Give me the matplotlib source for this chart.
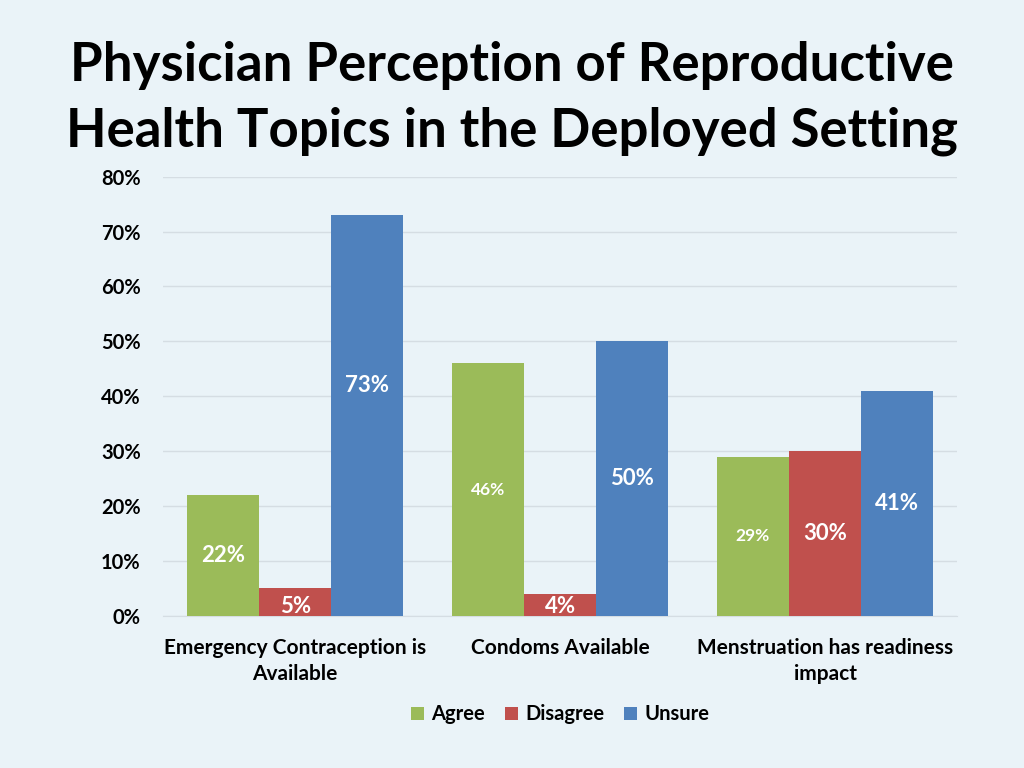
import numpy as np
import matplotlib.pyplot as plt

plt.rcParams['font.family'] = ['Lato', 'DejaVu Sans']
plt.rcParams['font.weight'] = 'bold'

# Data
categories = ['Emergency Contraception is\nAvailable', 'Condoms Available',
              'Menstruation has readiness\nimpact']
series = ['Agree', 'Disagree', 'Unsure']
agree = [22, 46, 29]
disagree = [5, 4, 30]
unsure = [73, 50, 41]
values = [agree, disagree, unsure]

colors = ['#9BBB59', '#C0504D', '#4F81BD']
bg = '#EAF3F8'
# label size per bar (some labels are smaller in the original)
label_sizes = [[16, 12.5, 12.5], [16, 16, 16], [16, 16, 16]]

fig = plt.figure(figsize=(10.24, 7.68), dpi=100, facecolor=bg)
ax = fig.add_axes([0.159, 0.198, 0.776, 0.572], facecolor=bg)

x = np.arange(len(categories))
w = 0.272
for i, (name, vals, col) in enumerate(zip(series, values, colors)):
    xs = x + (i - 1) * w
    ax.bar(xs, vals, width=w, color=col, label=name, zorder=3)
    for j, v in enumerate(vals):
        y = v / 2
        if v < 8:
            y = 1.8
        if v > 70:
            y = v * 0.575
        ax.text(xs[j], y, f'{v}%', ha='center', va='center', color='white',
                fontsize=label_sizes[i][j], fontweight='bold', zorder=4)

ax.set_xlim(-0.5, 2.5)
ax.set_ylim(0, 80)
ax.set_yticks(np.arange(0, 81, 10))
ax.set_yticklabels([f'{t}%' for t in range(0, 81, 10)])
ax.yaxis.grid(True, color='#D5DDE3', linewidth=1, zorder=0)
ax.set_xticks(x)
ax.set_xticklabels(categories, fontsize=15, linespacing=1.35)
ax.tick_params(axis='y', labelsize=14.5, length=0, pad=16)
ax.tick_params(axis='x', length=0, pad=16)
for s in ['top', 'right', 'left']:
    ax.spines[s].set_visible(False)
ax.spines['bottom'].set_color('#D5DDE3')

leg = ax.legend(loc='upper center', bbox_to_anchor=(0.5, -0.16), ncol=3,
                frameon=False, fontsize=14.5, handlelength=0.65, handleheight=0.65,
                handletextpad=0.35, columnspacing=1.0)

fig.text(0.5, 0.872, 'Physician Perception of Reproductive\nHealth Topics in the Deployed Setting',
         ha='center', va='center', fontsize=38, fontweight='bold', linespacing=1.4)

fig.savefig('out.png', dpi=100, facecolor=bg)
